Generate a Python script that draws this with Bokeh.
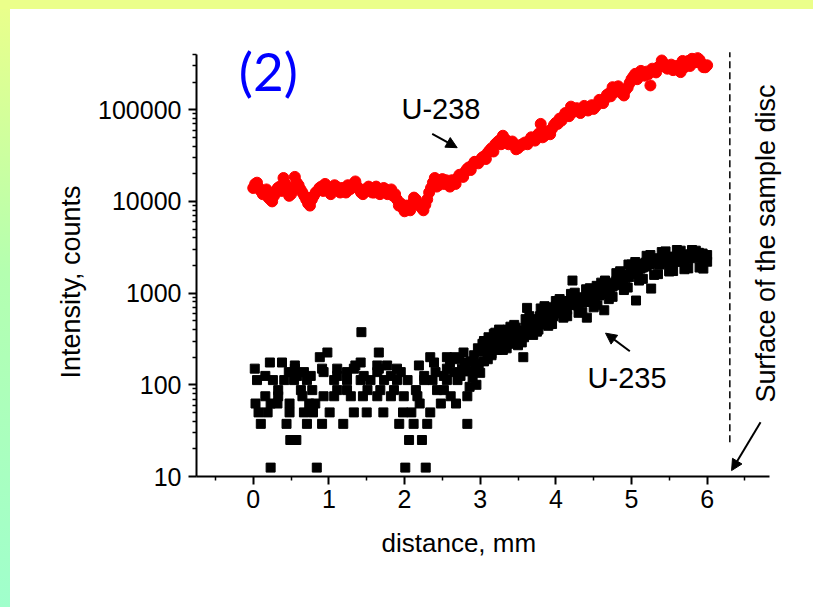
from bokeh.plotting import figure
from bokeh.models import (Label, Arrow, NormalHead, FixedTicker, NumeralTickFormatter,
                          GlobalInlineStyleSheet, Title)
from bokeh.embed import file_html
from bokeh.resources import INLINE

# ---------------- data ----------------
u238_x = [0.00, 0.05, 0.10, 0.15, 0.20, 0.25, 0.30, 0.35, 0.40, 0.45,
          0.50, 0.55, 0.60, 0.65, 0.70, 0.75, 0.80, 0.85, 0.90, 0.95,
          1.00, 1.05, 1.10, 1.15, 1.20, 1.25, 1.30, 1.35, 1.40, 1.45,
          1.50, 1.55, 1.60, 1.65, 1.70, 1.75, 1.80, 1.85, 1.90, 1.95,
          2.00, 2.05, 2.10, 2.15, 2.20, 2.25, 2.30, 2.35, 2.40, 2.45,
          2.50, 2.55, 2.60, 2.65, 2.70, 2.75, 2.80, 2.85, 2.90, 2.95,
          3.00, 3.05, 3.10, 3.15, 3.20, 3.25, 3.30, 3.35, 3.40, 3.45,
          3.50, 3.55, 3.60, 3.65, 3.70, 3.75, 3.80, 3.85, 3.90, 3.95,
          4.00, 4.05, 4.10, 4.15, 4.20, 4.25, 4.30, 4.35, 4.40, 4.45,
          4.50, 4.55, 4.60, 4.65, 4.70, 4.75, 4.80, 4.85, 4.90, 4.95,
          5.00, 5.05, 5.10, 5.15, 5.20, 5.25, 5.30, 5.35, 5.40, 5.45,
          5.50, 5.55, 5.60, 5.65, 5.70, 5.75, 5.80, 5.85, 5.90, 5.95,
          6.00,
          0.025, 0.075, 0.125, 0.175, 0.225, 0.275, 0.325, 0.375, 0.425, 0.475,
          0.525, 0.575, 0.625, 0.675, 0.725, 0.775, 0.825, 0.875, 0.925, 0.975,
          1.025, 1.075, 1.125, 1.175, 1.225, 1.275, 1.325, 1.375, 1.425, 1.475,
          1.525, 1.575, 1.625, 1.675, 1.725, 1.775, 1.825, 1.875, 1.925, 1.975,
          2.025, 2.075, 2.125, 2.175, 2.225, 2.275, 2.325, 2.375, 2.425, 2.475,
          2.525, 2.575, 2.625, 2.675, 2.725, 2.775, 2.825, 2.875, 2.925, 2.975,
          3.025, 3.075, 3.125, 3.175, 3.225, 3.275, 3.325, 3.375, 3.425, 3.475,
          3.525, 3.575, 3.625, 3.675, 3.725, 3.775, 3.825, 3.875, 3.925, 3.975,
          4.025, 4.075, 4.125, 4.175, 4.225, 4.275, 4.325, 4.375, 4.425, 4.475,
          4.525, 4.575, 4.625, 4.675, 4.725, 4.775, 4.825, 4.875, 4.925, 4.975,
          5.025, 5.075, 5.125, 5.175, 5.225, 5.275, 5.325, 5.375, 5.425, 5.475,
          5.525, 5.575, 5.625, 5.675, 5.725, 5.775, 5.825, 5.875, 5.925, 5.975]
u238_y = [14000, 16000, 13000, 12500, 11000, 10000, 13000, 14500, 18000, 13000,
          12000, 18500, 15000, 12500, 10500, 9000, 11500, 13000, 14500, 15500,
          13000, 14000, 14500, 12500, 13500, 15000, 14000, 16500, 13500, 12000,
          13000, 14000, 12500, 13500, 13000, 13500, 12500, 11500, 10500, 9500,
          7800, 8800, 9500, 10500, 9000, 8000, 10500, 14000, 18000, 15000,
          17500, 17000, 14500, 16500, 18000, 19000, 21000, 23500, 25000, 27000,
          28000, 31000, 34000, 38000, 42000, 46000, 52000, 46000, 43000, 41000,
          38000, 41000, 44000, 46000, 48000, 52000, 70000, 52000, 56000, 62000,
          72000, 80000, 84000, 90000, 108000, 98000, 100000, 102000, 104000, 106000,
          102000, 115000, 125000, 131000, 150000, 176000, 160000, 165000, 143000, 175000,
          215000, 246000, 230000, 250000, 260000, 184000, 270000, 290000, 344000, 290000,
          300000, 270000, 300000, 257000, 290000, 340000, 359000, 330000, 350000, 291000,
          305000,
          15500, 14000, 12000, 13500, 10500, 11500, 14000, 13000, 15500, 11500,
          14000, 16000, 13500, 11500, 9500, 10500, 12500, 14000, 13000, 14500,
          12000, 15000, 13500, 14000, 12500, 13500, 15500, 14500, 12500, 13500,
          14500, 12500, 14500, 12000, 14000, 12000, 13500, 12000, 9000, 8500,
          9000, 8000, 11000, 9500, 8500, 9200, 12500, 16000, 14500, 16500,
          15500, 16000, 17000, 15500, 19500, 18500, 22500, 22000, 27000, 26000,
          30000, 29000, 36000, 35000, 44000, 42000, 48000, 42000, 45000, 37000,
          41000, 43000, 42000, 50000, 46000, 55000, 50000, 58000, 54000, 68000,
          70000, 76000, 92000, 85000, 94000, 104000, 92000, 110000, 98000, 112000,
          108000, 128000, 118000, 145000, 140000, 155000, 180000, 150000, 165000, 195000,
          230000, 215000, 265000, 235000, 245000, 280000, 255000, 300000, 320000, 280000,
          310000, 295000, 270000, 340000, 310000, 300000, 345000, 365000, 320000, 290000]

u235_x = [0.23, 0.84, 2.01, 2.28,
          0.49, 0.57, 2.06, 2.23,
          0.10, 0.44, 0.71, 0.91, 1.19, 1.93, 2.12, 2.30, 2.83,
          0.07, 0.19, 0.48, 0.67, 0.79, 1.01, 1.33, 1.50, 1.72, 1.98, 2.09, 2.34,
          0.03, 0.23, 0.32, 0.48, 0.74, 0.82, 2.20, 2.48, 2.68,
          0.16, 0.33, 0.65, 0.93, 1.07, 1.29, 1.45, 1.64, 1.82, 1.99, 2.17, 2.61, 2.83,
          0.33, 0.63, 0.78, 1.11, 1.24, 1.51, 1.68, 1.86, 2.15, 2.43, 2.52,
          0.05, 0.26, 0.41, 0.54, 0.71, 1.07, 1.24, 1.42, 1.55, 1.73, 1.90, 2.04, 2.26, 2.37, 2.56, 2.70,
          0.16, 0.47, 0.58, 0.67, 0.76, 0.93, 1.11, 1.24, 1.46, 1.64, 1.82, 1.95, 2.26, 2.41, 2.52, 2.65, 2.74,
          0.02, 0.55, 0.91, 1.11, 1.33, 1.66, 1.90, 2.56,
          0.22, 0.38, 0.55, 1.35, 1.42, 1.64, 1.77, 2.19, 2.39,
          0.88, 2.34, 2.56, 0.98, 1.66, 2.78, 1.43,
          2.60, 2.66, 2.72, 2.76, 2.80,
          2.85, 2.86, 2.88, 2.90, 2.92, 2.93, 2.95, 2.97, 2.98, 3.00,
          3.01, 3.03, 3.05, 3.06, 3.08, 3.10, 3.11, 3.13, 3.15, 3.16,
          3.18, 3.20, 3.22, 3.24, 3.25, 3.27, 3.29, 3.30, 3.32, 3.34,
          3.36, 3.38, 3.40, 3.42, 3.44, 3.45, 3.47, 3.49, 3.50, 3.52,
          3.54, 3.55, 3.57, 3.58, 3.60, 3.62, 3.63, 3.65, 3.67, 3.69,
          3.70, 3.72, 3.74, 3.75, 3.77, 3.79, 3.80, 3.82, 3.84, 3.85,
          3.87, 3.89, 3.90, 3.92, 3.94, 3.95, 3.97, 3.99, 4.00, 4.02,
          4.04, 4.05, 4.07, 4.09, 4.10, 4.12, 4.14, 4.15, 4.17, 4.19,
          4.20, 4.22, 4.24, 4.25, 4.27, 4.29, 4.30, 4.32, 4.34, 4.35,
          4.37, 4.39, 4.41, 4.42, 4.44, 4.46, 4.48, 4.50, 4.52, 4.54,
          4.55, 4.57, 4.59, 4.60, 4.62, 4.64, 4.65, 4.67, 4.69, 4.70,
          4.72, 4.74, 4.75, 4.77, 4.79, 4.80, 4.82, 4.84, 4.85, 4.87,
          4.89, 4.90, 4.92, 4.94, 4.96, 4.97, 4.99, 5.00, 5.02, 5.04,
          5.06, 5.07, 5.09, 5.10, 5.12, 5.14, 5.15, 5.17, 5.19, 5.20,
          5.22, 5.24, 5.26, 5.27, 5.29, 5.30, 5.32, 5.34, 5.35, 5.37,
          5.39, 5.40, 5.42, 5.44, 5.46, 5.47, 5.49, 5.50, 5.52, 5.54,
          5.55, 5.57, 5.59, 5.60, 5.62, 5.64, 5.65, 5.67, 5.69, 5.70,
          5.72, 5.74, 5.75, 5.77, 5.79, 5.80, 5.82, 5.84, 5.85, 5.87,
          5.89, 5.90, 5.92, 5.94, 5.95, 5.97, 5.99, 6.00,
          3.05, 3.15, 3.25, 3.35, 3.45, 3.55, 3.65, 3.75, 3.85, 3.95,
          4.05, 4.15, 4.25, 4.35, 4.45, 4.55, 4.65, 4.75, 4.85, 4.95,
          5.05, 5.15, 5.25, 5.35, 5.45, 5.55, 5.65, 5.75, 5.85, 5.95,
          3.10, 3.20, 3.30, 3.40, 3.50, 3.60, 3.70, 3.80, 3.90, 4.00,
          4.10, 4.20, 4.30, 4.40, 4.50, 4.60, 4.70, 4.80, 4.90, 5.00,
          5.10, 5.20, 5.30, 5.40, 5.50, 5.60, 5.70, 5.80, 5.90, 6.00]
u235_y = [12.5, 12.5, 12.5, 12.5,
          25, 25, 25, 25,
          37.5, 37.5, 37.5, 37.5, 37.5, 37.5, 37.5, 37.5, 37.5,
          50, 50, 50, 50, 50, 50, 50, 50, 50, 50, 50, 50,
          62.5, 62.5, 62.5, 62.5, 62.5, 62.5, 62.5, 62.5, 62.5,
          75, 75, 75, 75, 75, 75, 75, 75, 75, 75, 75, 75, 75,
          87.5, 87.5, 87.5, 87.5, 87.5, 87.5, 87.5, 87.5, 87.5, 87.5, 87.5,
          112.5, 112.5, 112.5, 112.5, 112.5, 112.5, 112.5, 112.5, 112.5, 112.5, 112.5, 112.5, 112.5, 112.5, 112.5, 112.5,
          125, 137.5, 125, 137.5, 125, 137.5, 125, 137.5, 125, 137.5, 125, 137.5, 125, 137.5, 125, 137.5, 125,
          150, 150, 150, 150, 150, 150, 150, 150,
          175, 175, 162.5, 162.5, 175, 162.5, 162.5, 162.5, 175,
          200, 200, 200, 225, 225, 225, 375,
          175, 200, 190, 150, 175,
          140, 95, 180, 120, 210, 150, 100, 250, 170, 135,
          230, 280, 180, 300, 250, 210, 330, 270, 220, 300,
          360, 280, 240, 340, 300, 380, 320, 270, 350, 290,
          400, 330, 300, 360, 320, 280, 420, 380, 340, 310,
          390, 360, 200, 330, 420, 690, 380, 450, 400, 360,
          500, 430, 520, 470, 400, 560, 500, 600, 540, 460,
          620, 560, 520, 650, 600, 700, 560, 640, 720, 600,
          680, 760, 650, 720, 800, 700, 760, 660, 820, 740,
          800, 1370, 760, 840, 780, 860, 720, 820, 900, 790,
          860, 800, 540, 900, 840, 950, 880, 960, 900, 1200,
          1000, 940, 1050, 980, 1080, 650, 1020, 1120, 1060, 1150,
          1100, 1250, 1180, 1300, 1220, 1350, 1280, 1400, 1320, 1480,
          1400, 1550, 1450, 1600, 2050, 1500, 1700, 1620, 1800, 1700,
          830, 1850, 1750, 1950, 1850, 2100, 1900, 2000, 2150, 1950,
          2200, 2050, 1120, 2250, 2100, 2300, 2150, 2400, 2200, 2050,
          2350, 2250, 2450, 2300, 2150, 2400, 2250, 1750, 2350, 2500,
          2300, 2450, 2200, 2350, 2500, 2400, 2200, 2550, 2400, 2300,
          2600, 2450, 2350, 2650, 2500, 2700, 2550, 2400, 2700, 2550,
          2750, 2600, 2450, 2700, 2300, 2550, 2400, 2200,
          300, 210, 400, 250, 450, 290, 560, 380, 720, 460,
          860, 560, 1010, 620, 1130, 735, 1370, 910, 1730, 1150,
          2180, 1430, 2600, 1610, 2850, 1740, 2900, 1860, 2900, 1850,
          190, 370, 240, 430, 270, 520, 350, 680, 440, 820,
          540, 980, 610, 1100, 700, 1300, 860, 1650, 1080, 2050,
          1370, 2550, 1580, 2800, 1720, 2950, 1820, 2950, 1900, 2600]

x_ticks = [0, 1, 2, 3, 4, 5, 6]
x_minor = [-0.5, 0.5, 1.5, 2.5, 3.5, 4.5, 5.5, 6.5]
y_ticks = [10, 100, 1000, 10000, 100000]
y_minor = [m * d for d in (10, 100, 1000, 10000) for m in (2, 3, 4, 5, 6, 7, 8, 9)] + [200000, 300000, 400000]

FONT = "Liberation Sans"

# ---------------- figure ----------------
p = figure(width=797, height=591, x_range=(-0.75, 7.168), y_range=(10, 5.14e5),
           y_axis_type="log", output_backend="svg", toolbar_location=None,
           min_border_left=196, min_border_right=2, min_border_top=44, min_border_bottom=115,
           background_fill_color="white", border_fill_color="white")
p.outline_line_color = None
p.grid.visible = False

p.stylesheets = [GlobalInlineStyleSheet(css=(
    "body{background:#ffffff;}"
    "body::before{content:'';position:fixed;left:0;top:0;width:10px;height:100vh;"
    "background:linear-gradient(to bottom,#ebff8a,#b4ffb0 45%,#a0ffcc);z-index:10000;pointer-events:none;}"
    "body::after{content:'';position:fixed;left:0;top:0;width:100vw;height:9px;"
    "background:#ebff8a;z-index:10001;pointer-events:none;}"
))]

for ax in (p.xaxis[0], p.yaxis[0]):
    ax.axis_line_width = 2
    ax.axis_line_color = "black"
    ax.major_tick_line_width = 2
    ax.minor_tick_line_width = 1.5
    ax.major_tick_in = 0
    ax.minor_tick_in = 0
    ax.major_tick_out = 8
    ax.minor_tick_out = 4
    ax.major_label_text_font = FONT
    ax.major_label_text_font_size = "25px"
    ax.major_label_text_color = "black"

p.xaxis.ticker = FixedTicker(ticks=x_ticks, minor_ticks=x_minor)
p.yaxis.ticker = FixedTicker(ticks=y_ticks, minor_ticks=y_minor)
p.yaxis.formatter = NumeralTickFormatter(format="0")
p.xaxis.bounds = (-0.75, 6.825)
p.yaxis.bounds = (10, 4e5)
p.xaxis.major_label_standoff = 5
p.yaxis.major_label_standoff = 7

p.add_layout(Title(text="Intensity, counts", align="left", offset=98, standoff=20,
                   text_font=FONT, text_font_size="27px", text_font_style="normal",
                   text_color="black"), "left")
p.add_layout(Title(text="distance, mm", align="left", offset=185, standoff=31,
                   text_font=FONT, text_font_size="26px", text_font_style="normal",
                   text_color="black"), "below")

# surface line
p.segment(x0=[6.30], y0=[23.7], x1=[6.30], y1=[4.24e5], line_color="black",
          line_width=1.5, line_dash="7 4")

# data
p.scatter(u235_x, u235_y, marker="square", size=9, fill_color="black", line_color="black")
p.scatter(u238_x, u238_y, marker="circle", size=11, fill_color="red", line_color="red")

# annotations
p.add_layout(Label(x=-0.19, y=2.68e5, text="(2)", text_font="Lato", text_font_size="53px",
                   text_color="#0000ff", text_baseline="alphabetic"))
p.add_layout(Label(x=1.96, y=102300, text="U-238", text_font=FONT, text_font_size="29px",
                   text_color="black", text_baseline="alphabetic"))
p.add_layout(Label(x=4.42, y=119, text="U-235", text_font=FONT, text_font_size="29px",
                   text_color="black", text_baseline="alphabetic"))
p.add_layout(Label(x=6.78, y=3475, text="Surface of the sample disc", text_font=FONT,
                   text_font_size="27px", text_color="black", angle=1.5708,
                   text_align="center", text_baseline="alphabetic"))

for xs, ys, xe, ye in [(2.366, 54600, 2.696, 38500),
                       (4.978, 232, 4.657, 366),
                       (6.706, 39.1, 6.323, 11.6)]:
    p.add_layout(Arrow(end=NormalHead(size=11, fill_color="black", line_color="black", line_width=1),
                       x_start=xs, y_start=ys, x_end=xe, y_end=ye,
                       line_width=2, line_color="black"))

open("out.html", "w").write(file_html(p, INLINE))
